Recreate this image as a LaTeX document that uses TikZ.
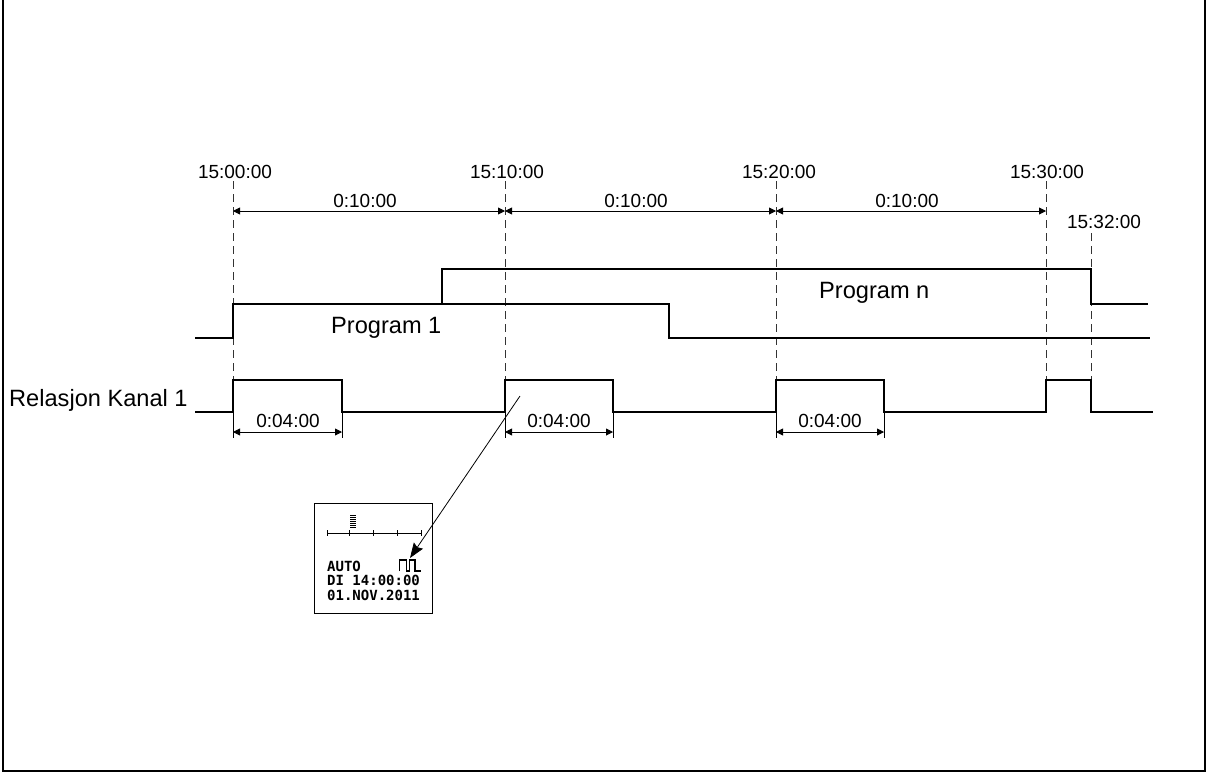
\documentclass[tikz,border=0pt]{standalone}
\usepackage{fontspec}
\setmainfont{Liberation Sans}
\newfontfamily\lcdfont{DejaVu Sans Mono}
\usetikzlibrary{arrows.meta}
\begin{document}
\begin{tikzpicture}[x=1pt,y=-1pt,
  sig/.style={line width=2.5pt, line join=miter},
  guide/.style={line width=1pt, dash pattern=on 8pt off 5pt, black!80},
  dimline/.style={line width=0.9pt, {Triangle[length=7pt,width=7pt]}-{Triangle[length=7pt,width=7pt]}},
  ext/.style={line width=0.8pt},
  tlabel/.style={font=\fontsize{19}{22}\selectfont, inner sep=0pt},
  slabel/.style={font=\fontsize{23.6}{27}\selectfont, inner sep=0pt},
  lcdtext/.style={font=\lcdfont\bfseries\fontsize{14}{16}\selectfont, inner sep=0pt, anchor=base west},
  frame/.style={line width=1.5pt},
]
\useasboundingbox (0,0) rectangle (1208,774);
\draw[frame] (3,0) -- (3,771) -- (1205,771) -- (1205,0);

% time coordinates
\coordinate (a0) at (233,211); \coordinate (a1) at (505,211);
\coordinate (a2) at (776,211); \coordinate (a3) at (1046,211);

% time labels
\node[tlabel] (l1) at (235,172) {15:00:00};
\node[tlabel] (l2) at (507,172) {15:10:00};
\node[tlabel] (l3) at (779,172) {15:20:00};
\node[tlabel] (l4) at (1047,172) {15:30:00};
\node[tlabel] (l5) at (1104,222) {15:32:00};

% guide lines
\draw[guide] (233,181) -- (233,380);
\draw[guide] (505,181) -- (505,380);
\draw[guide] (776,181) -- (776,380);
\draw[guide] (1046,181) -- (1046,380);
\draw[guide] (1091,233) -- (1091,380);

% 10 minute dimensions
\draw[dimline] (a0) -- (a1);
\draw[dimline] (a1) -- (a2);
\draw[dimline] (a2) -- (a3);
\node[tlabel] (d1) at (365,201) {0:10:00};
\node[tlabel] (d2) at (636,201) {0:10:00};
\node[tlabel] (d3) at (907,201) {0:10:00};

% program signals
\draw[sig] (195,338) -- (233,338) -- (233,304) -- (669,304) -- (669,338) -- (1150,338);
\draw[sig] (442,304) -- (442,269) -- (1091,269) -- (1091,304) -- (1148,304);
\node[slabel, anchor=base west] (p1) at (331,333) {Program 1};
\node[slabel, anchor=base west] (pn) at (819,298) {Program n};

% relay signal
\node[slabel, anchor=base west] (rel) at (9,406) {Relasjon Kanal 1};
\draw[sig] (195,412) -- (233,412) -- (233,380) -- (342,380) -- (342,412)
  -- (505,412) -- (505,380) -- (613,380) -- (613,412)
  -- (776,412) -- (776,380) -- (884,380) -- (884,412)
  -- (1046,412) -- (1046,380) -- (1091,380) -- (1091,412) -- (1153,412);

% 4 minute dimensions
\foreach \s/\e/\m in {233/342/288, 505/613/559, 776/884/830} {
  \draw[ext] (\s,412) -- (\s,438);
  \draw[ext] (\e,412) -- (\e,438);
  \coordinate (b\s) at (\s,432);
  \coordinate (c\s) at (\e,432);
  \draw[dimline] (b\s) -- (c\s);
  \node[tlabel] (t\s) at (\m,421) {0:04:00};
}

% LCD display
\draw[line width=1pt] (314,503) rectangle (432,613);
\draw[line width=1pt] (327,533) -- (421,533);
\foreach \x in {327,349,373,397,421} \draw[line width=1pt] (\x,530) -- (\x,536);
\foreach \y in {515,517,519,521,523,525,527} \draw[line width=0.7pt] (350,\y) -- (356,\y);
\node[lcdtext] (auto) at (327,571) {AUTO};
\node[lcdtext] (date1) at (327,585) {DI 14:00:00};
\node[lcdtext] (date2) at (327,600) {01.NOV.2011};
\draw[line width=1.5pt] (399.5,571) -- (399.5,560) -- (406.5,560) -- (406.5,571) -- (409.5,571)
  -- (409.5,560) -- (415,560) -- (415,571) -- (421,571);

% pointer arrow
\coordinate (src) at (520,396);
\coordinate (icon) at (410,558);
\draw[line width=0.8pt, -{Stealth[length=15pt,width=11pt,inset=2pt]}] (src) -- (icon);
\end{tikzpicture}
\end{document}
